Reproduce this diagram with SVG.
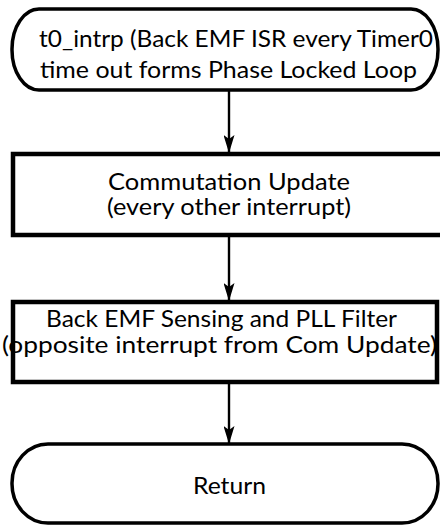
<svg xmlns="http://www.w3.org/2000/svg" width="440" height="525" viewBox="0 0 440 525">
<style>
.term{fill:#fff;stroke:#000;stroke-width:3.5}
.box{fill:#fff;stroke:#000;stroke-width:4.5}
.t{font-family:Lato,"Liberation Sans",sans-serif;font-size:23px;fill:#000;text-anchor:middle}
.c{stroke:#000;stroke-width:2.4;fill:none}
</style>
<defs>
<marker id="ah" markerWidth="18" markerHeight="11" refX="17" refY="5.5" orient="auto" markerUnits="userSpaceOnUse" viewBox="0 0 18 11">
<path d="M0,0 L18,5.5 L0,11 L4,5.5 Z" fill="#000"/>
</marker>
</defs>
<g id="connectors">
<line class="c" x1="229" y1="91" x2="229" y2="152" marker-end="url(#ah)"/>
<line class="c" x1="229" y1="237" x2="229" y2="300" marker-end="url(#ah)"/>
<line class="c" x1="229" y1="384" x2="229" y2="443" marker-end="url(#ah)"/>
</g>
<g id="start">
<rect class="term" x="12" y="9" width="426" height="81" rx="27" ry="40"/>
<text class="t" x="236" y="47" textLength="394" lengthAdjust="spacingAndGlyphs">t0_intrp (Back EMF ISR every Timer0</text>
<text class="t" x="228.5" y="78" textLength="377" lengthAdjust="spacingAndGlyphs">time out forms Phase Locked Loop</text>
</g>
<g id="commutation">
<rect class="box" x="13" y="154" width="440" height="81"/>
<text class="t" x="229" y="190" textLength="242" lengthAdjust="spacingAndGlyphs">Commutation Update</text>
<text class="t" x="229" y="215" textLength="244" lengthAdjust="spacingAndGlyphs">(every other interrupt)</text>
</g>
<g id="bemf">
<rect class="box" x="13" y="302" width="424" height="80"/>
<text class="t" x="221.5" y="327" textLength="351" lengthAdjust="spacingAndGlyphs">Back EMF Sensing and PLL Filter</text>
<text class="t" x="219.5" y="353" textLength="435" lengthAdjust="spacingAndGlyphs">(opposite interrupt from Com Update)</text>
</g>
<g id="return">
<rect class="term" x="12" y="444" width="426" height="79" rx="36" ry="39"/>
<text class="t" x="229.5" y="494" textLength="73" lengthAdjust="spacingAndGlyphs">Return</text>
</g>
</svg>
